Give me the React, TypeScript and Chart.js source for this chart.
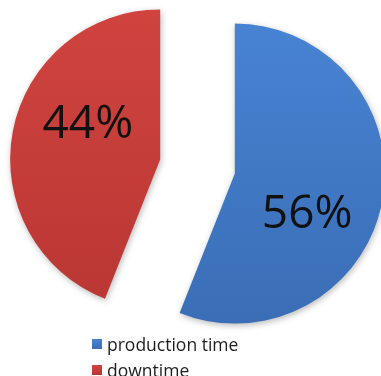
import React, { useEffect, useRef } from "react";
import { Chart, registerables } from "chart.js";

Chart.register(...registerables);

const categories = ["production time", "downtime"];
const values = [56, 44];
const topColors = ["#4884d4", "#d0433f"];
const bottomColors = ["#3a6db5", "#b83633"];

const EXPLODE = 38;
const RADIUS = 150;
const LABEL_TILT = (17 * Math.PI) / 180;
const LABEL_DIST = 0.545;
const LABEL_SIZE = 46;

const explodePlugin = {
  id: "explode",
  afterDatasetsUpdate(chart: any) {
    const meta = chart.getDatasetMeta(0);
    meta.data.forEach((arc: any) => {
      const mid = (arc.startAngle + arc.endAngle) / 2;
      arc.x += Math.cos(mid) * EXPLODE;
      arc.y += Math.sin(mid) * EXPLODE;
    });
  },
};

const shadowPlugin = {
  id: "softShadow",
  beforeDatasetsDraw(chart: any) {
    const ctx = chart.ctx;
    ctx.save();
    ctx.shadowColor = "rgba(0,0,0,0.28)";
    ctx.shadowBlur = 6;
    ctx.shadowOffsetX = 1;
    ctx.shadowOffsetY = 2;
  },
  afterDatasetsDraw(chart: any) {
    chart.ctx.restore();
  },
};

const labelPlugin = {
  id: "pctLabels",
  afterDatasetsDraw(chart: any) {
    const ctx = chart.ctx;
    const meta = chart.getDatasetMeta(0);
    ctx.save();
    ctx.font = `${LABEL_SIZE}px "Open Sans"`;
    ctx.fillStyle = "#111111";
    ctx.textAlign = "center";
    ctx.textBaseline = "alphabetic";
    meta.data.forEach((arc: any, i: number) => {
      const mid = (arc.startAngle + arc.endAngle) / 2 + LABEL_TILT;
      const r = arc.outerRadius * LABEL_DIST;
      const x = arc.x + Math.cos(mid) * r;
      const y = arc.y + Math.sin(mid) * r;
      ctx.fillText(`${values[i]}%`, x, y + LABEL_SIZE * 0.357);
    });
    ctx.restore();
  },
};

export default function App() {
  const canvasRef = useRef<HTMLCanvasElement | null>(null);

  useEffect(() => {
    if (!canvasRef.current) return;
    const chart = new Chart(canvasRef.current, {
      type: "pie",
      data: {
        labels: categories,
        datasets: [
          {
            data: values,
            backgroundColor: (c: any) => {
              const i = c.dataIndex ?? 0;
              const { ctx, chartArea } = c.chart;
              if (!chartArea) return topColors[i];
              const g = ctx.createLinearGradient(0, 10, 0, 330);
              g.addColorStop(0, topColors[i]);
              g.addColorStop(1, bottomColors[i]);
              return g;
            },
            borderWidth: 0,
            radius: RADIUS,
            clip: false,
          } as any,
        ],
      },
      options: {
        animation: false,
        responsive: false,
        layout: { padding: { left: 14, right: 0, top: 0, bottom: 43 } },
        plugins: {
          legend: { display: false },
          tooltip: { enabled: false },
        },
      },
      plugins: [explodePlugin, shadowPlugin, labelPlugin],
    });
    return () => chart.destroy();
  }, []);

  const legendFont = '"Open Sans", sans-serif';

  return (
    <div
      style={{
        position: "fixed",
        left: 0,
        top: 0,
        width: 381,
        height: 376,
        background: "#ffffff",
        overflow: "hidden",
      }}
    >
      <canvas
        ref={canvasRef}
        width={381}
        height={376}
        style={{ position: "absolute", left: 0, top: 0, width: 381, height: 376 }}
      />
      <div
        style={{
          position: "absolute",
          left: 92,
          top: 331,
          fontFamily: legendFont,
          fontSize: 17.5,
          color: "#1e1e1e",
          lineHeight: "26px",
        }}
      >
        {categories.map((name, i) => (
          <div key={name} style={{ display: "flex", alignItems: "center", whiteSpace: "nowrap" }}>
            <span
              style={{
                display: "inline-block",
                width: 10,
                height: 10,
                marginRight: 5,
                background: `linear-gradient(${topColors[i]}, ${bottomColors[i]})`,
              }}
            />
            <span>{name}</span>
          </div>
        ))}
      </div>
    </div>
  );
}
